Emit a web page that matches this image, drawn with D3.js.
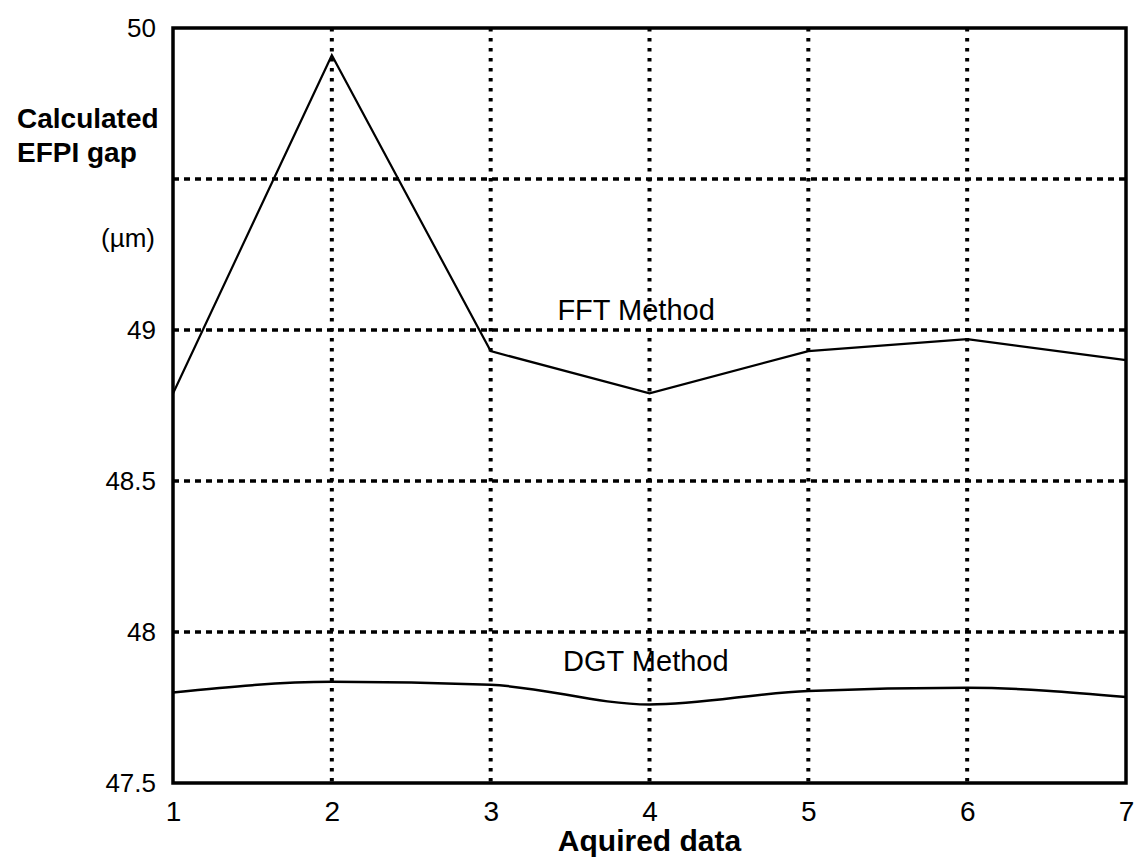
<!DOCTYPE html>
<html>
<head>
<meta charset="utf-8">
<script src="https://cdn.jsdelivr.net/npm/d3@7"></script>
<style>
  html, body { margin: 0; padding: 0; background: #fff; }
  svg { display: block; font-family: "Liberation Sans", Arial, sans-serif; }
</style>
</head>
<body>
<svg id="chart" width="1138" height="862"></svg>
<script>
'use strict';

// acquired data index
var acquired = [1, 2, 3, 4, 5, 6, 7];
// calculated EFPI gap (um)
var fftGap = [48.79, 49.91, 48.93, 48.79, 48.93, 48.97, 48.90];
var dgtGap = [47.80, 47.835, 47.825, 47.76, 47.805, 47.815, 47.785];

var xTicks = [1, 2, 3, 4, 5, 6, 7];
var xGrid = [2, 3, 4, 5, 6];
var yTicks = [50, 49, 48.5, 48, 47.5];
var yGrid = [49.5, 49, 48.5, 48];

var width = 1138;
var height = 862;
var margin = { top: 28, right: 12, bottom: 79, left: 173 };

var svg = d3.select('#chart');
var x = d3.scaleLinear().domain([1, 7]).range([margin.left, width - margin.right]);
var y = d3.scaleLinear().domain([47.5, 50]).range([height - margin.bottom, margin.top]);

// dotted grid
svg.append('g').selectAll('line').data(xGrid).enter().append('line')
  .attr('x1', function (d) { return x(d); }).attr('x2', function (d) { return x(d); })
  .attr('y1', y(50)).attr('y2', y(47.5))
  .attr('stroke', '#000').attr('stroke-width', 4).attr('stroke-dasharray', '3.5,6.5');

svg.append('g').selectAll('line').data(yGrid).enter().append('line')
  .attr('x1', x(1)).attr('x2', x(7))
  .attr('y1', function (d) { return y(d); }).attr('y2', function (d) { return y(d); })
  .attr('stroke', '#000').attr('stroke-width', 3.5).attr('stroke-dasharray', '6,5');

// axes (labels only)
var xAxis = svg.append('g')
  .attr('transform', 'translate(0,' + y(47.5) + ')')
  .call(d3.axisBottom(x).tickValues(xTicks).tickSize(0).tickPadding(18).tickFormat(d3.format('d')));
xAxis.select('.domain').remove();
xAxis.selectAll('text').attr('font-size', 28).attr('fill', '#000')
  .attr('font-family', '"Liberation Sans", Arial, sans-serif');

var yAxis = svg.append('g')
  .attr('transform', 'translate(' + x(1) + ',0)')
  .call(d3.axisLeft(y).tickValues(yTicks).tickSize(0).tickPadding(17).tickFormat(d3.format('~g')));
yAxis.select('.domain').remove();
yAxis.selectAll('text').attr('font-size', 26).attr('fill', '#000')
  .attr('font-family', '"Liberation Sans", Arial, sans-serif');

// frame
svg.append('rect')
  .attr('x', x(1)).attr('y', y(50))
  .attr('width', x(7) - x(1)).attr('height', y(47.5) - y(50))
  .attr('fill', 'none').attr('stroke', '#000').attr('stroke-width', 3.5);

// series
var fftLine = d3.line()
  .x(function (d, i) { return x(acquired[i]); })
  .y(function (d) { return y(d); });
var dgtLine = d3.line()
  .x(function (d, i) { return x(acquired[i]); })
  .y(function (d) { return y(d); })
  .curve(d3.curveMonotoneX);

svg.append('path').datum(fftGap).attr('d', fftLine)
  .attr('fill', 'none').attr('stroke', '#000').attr('stroke-width', 2.2);
svg.append('path').datum(dgtGap).attr('d', dgtLine)
  .attr('fill', 'none').attr('stroke', '#000').attr('stroke-width', 2.5);

// series labels
svg.append('text').attr('x', x(3.42)).attr('y', y(49.033))
  .attr('font-size', 29).text('FFT Method');
svg.append('text').attr('x', x(3.456)).attr('y', y(47.871))
  .attr('font-size', 29).text('DGT Method');

// y axis title
svg.append('text').attr('x', 17).attr('y', 128)
  .attr('font-size', 28).attr('font-weight', 'bold').text('Calculated');
svg.append('text').attr('x', 17).attr('y', 162)
  .attr('font-size', 28).attr('font-weight', 'bold').text('EFPI gap');
svg.append('text').attr('x', 155).attr('y', 247).attr('text-anchor', 'end')
  .attr('font-size', 26).text('(\u00b5m)');

// x axis title
svg.append('text').attr('x', (x(1) + x(7)) / 2).attr('y', 851).attr('text-anchor', 'middle')
  .attr('font-size', 30).attr('font-weight', 'bold').text('Aquired data');
</script>
</body>
</html>
